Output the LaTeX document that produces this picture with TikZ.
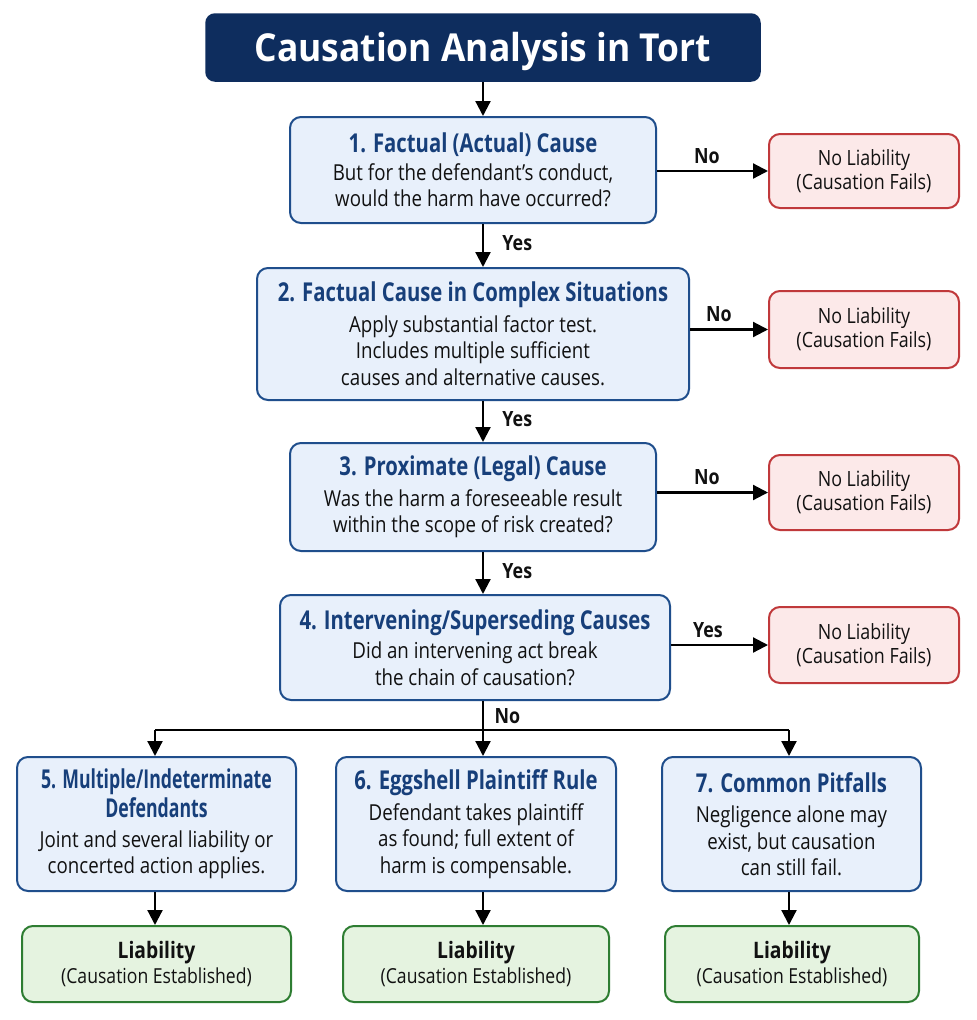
\documentclass[tikz,border=0pt]{standalone}
\usepackage{fontspec}
\setmainfont{Open Sans}[FakeStretch=0.85]
\newfontfamily\headfont{Open Sans}[FakeStretch=0.78]
\newfontfamily\narrowhead{Open Sans}[FakeStretch=0.68]
\newfontfamily\titlefont{Open Sans}[FakeStretch=0.92]
\usetikzlibrary{arrows.meta}
\definecolor{navy}{HTML}{0E2D5E}
\definecolor{bborder}{HTML}{1F4E8C}
\definecolor{bfill}{HTML}{E8F0FB}
\definecolor{bhead}{HTML}{173F7A}
\definecolor{rborder}{HTML}{C0393B}
\definecolor{rfill}{HTML}{FCE9E9}
\definecolor{gborder}{HTML}{2E7D32}
\definecolor{gfill}{HTML}{E5F3E0}
\definecolor{txt}{HTML}{111111}
\tikzset{
  titlebox/.style={draw=navy, fill=navy, rounded corners=9pt, line width=1.5pt, text=white, font=\titlefont\bfseries\fontsize{38.5}{44}\selectfont, text height=30pt, text depth=2.5pt},
  stepbox/.style={draw=bborder, fill=bfill, rounded corners=11pt, line width=2pt, align=center, text=txt, font=\fontsize{22}{26.5}\selectfont, inner sep=0pt},
  nobox/.style={draw=rborder, fill=rfill, rounded corners=11pt, line width=2pt, align=center, text=txt, font=\fontsize{21}{24}\selectfont, inner sep=0pt},
  yesbox/.style={draw=gborder, fill=gfill, rounded corners=11pt, line width=2pt, align=center, text=txt, font=\fontsize{20.7}{25}\selectfont, inner sep=0pt},
  conn/.style={line width=2.2pt, -{Triangle[length=15pt,width=15pt]}},
  plain/.style={line width=2.2pt},
  lbl/.style={font=\fontsize{21}{24}\selectfont\bfseries, text=txt},
}
\newcommand{\hd}[1]{{\headfont\bfseries\color{bhead}\fontsize{26}{30}\selectfont #1}}
\newcommand{\hdn}[1]{{\narrowhead\bfseries\color{bhead}\fontsize{26}{30}\selectfont #1}}
\newcommand{\lb}[1]{{\bfseries\fontsize{22.7}{26}\selectfont #1}}
\begin{document}
\begin{tikzpicture}[x=1pt,y=-1pt]
\useasboundingbox[fill=white] (0,0) rectangle (977,1020);

\node[titlebox, minimum width=554pt, minimum height=67pt] (title) at (483,47.5) {Causation Analysis in Tort};

\node[stepbox, minimum width=366pt, minimum height=106pt] (b1) at (473,170)
  {\hd{1. Factual (Actual) Cause}\\[1pt] But for the defendant’s conduct,\\ would the harm have occurred?};
\node[stepbox, minimum width=432pt, minimum height=132pt] (b2) at (473,334)
  {\hd{2. Factual Cause in Complex Situations}\\[4pt] Apply substantial factor test.\\ Includes multiple sufficient\\ causes and alternative causes.};
\node[stepbox, minimum width=366pt, minimum height=108pt] (b3) at (473,497)
  {\hd{3. Proximate (Legal) Cause}\\[4pt] Was the harm a foreseeable result\\ within the scope of risk created?};
\node[stepbox, minimum width=390pt, minimum height=105pt] (b4) at (475,647.5)
  {\hd{4. Intervening/Superseding Causes}\\[3pt] Did an intervening act break\\ the chain of causation?};

\node[nobox, minimum width=190pt, minimum height=74pt] (n1) at (864,171) {No Liability\\(Causation Fails)};
\node[nobox, minimum width=190pt, minimum height=77pt] (n2) at (864,329.5) {No Liability\\(Causation Fails)};
\node[nobox, minimum width=190pt, minimum height=75pt] (n3) at (864,492.5) {No Liability\\(Causation Fails)};
\node[nobox, minimum width=190pt, minimum height=76pt] (n4) at (864,645) {No Liability\\(Causation Fails)};

\node[stepbox, minimum width=279pt, minimum height=134pt] (b5) at (156.5,824)
  {\hdn{5. Multiple/Indeterminate}\\[3pt]\hdn{Defendants}\\[3pt] Joint and several liability or\\ concerted action applies.};
\node[stepbox, minimum width=280pt, minimum height=134pt] (b6) at (476,824)
  {\hd{6. Eggshell Plaintiff Rule}\\[4pt] Defendant takes plaintiff\\ as found; full extent of\\ harm is compensable.};
\node[stepbox, minimum width=259pt, minimum height=134pt] (b7) at (791.5,824)
  {\hd{7. Common Pitfalls}\\[4pt] Negligence alone may\\ exist, but causation\\ can still fail.};

\node[yesbox, minimum width=269pt, minimum height=76pt] (g5) at (156.5,964) {\lb{Liability}\\(Causation Established)};
\node[yesbox, minimum width=266pt, minimum height=76pt] (g6) at (476,964) {\lb{Liability}\\(Causation Established)};
\node[yesbox, minimum width=254pt, minimum height=76pt] (g7) at (792,964) {\lb{Liability}\\(Causation Established)};

% vertical main flow
\draw[conn] (title.south) -- (title.south |- b1.north);
\draw[conn] (b1.south -| title.south) -- node[lbl, right=15pt, pos=0.45] (y1) {Yes} (b2.north -| title.south);
\draw[conn] (b2.south -| title.south) -- node[lbl, right=15pt, pos=0.45] (y2) {Yes} (b3.north -| title.south);
\draw[conn] (b3.south -| title.south) -- node[lbl, right=15pt, pos=0.45] (y3) {Yes} (b4.north -| title.south);

% side exits
\draw[conn] (b1.east |- n1.west) -- node[lbl, above=3pt, pos=0.45] (l1) {No} (n1.west);
\draw[conn] (b2.east |- n2.west) -- node[lbl, above=3pt, pos=0.37] (l2) {No} (n2.west);
\draw[conn] (b3.east |- n3.west) -- node[lbl, above=3pt, pos=0.45] (l3) {No} (n3.west);
\draw[conn] (b4.east |- n4.west) -- node[lbl, above=3pt, pos=0.38] (l4) {Yes} (n4.west);

% split
\coordinate (split) at (483,730);
\coordinate (c5) at (155,730);
\coordinate (c7) at (789,730);
\draw[plain] (b4.south -| split) -- (split);
\node[lbl, anchor=west] (l5) at (491,716) {No};
\draw[plain] (c5) -- (c7);
\draw[conn] (c5) -- (b5.north -| c5);
\draw[conn] (split) -- (b6.north -| split);
\draw[conn] (c7) -- (b7.north -| c7);

% to liability
\draw[conn] (b5.south -| c5) -- (g5.north -| c5);
\draw[conn] (b6.south -| split) -- (g6.north -| split);
\draw[conn] (b7.south -| c7) -- (g7.north -| c7);
\end{tikzpicture}
\end{document}
